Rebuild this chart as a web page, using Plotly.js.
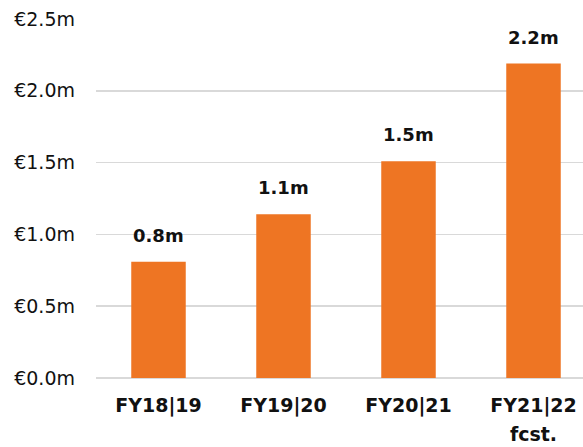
<!DOCTYPE html>
<html>
<head>
<meta charset="utf-8">
<script src="https://cdn.plot.ly/plotly-3.0.1.min.js"></script>
<style>html,body{margin:0;padding:0;background:#fff;}#chart{width:583px;height:447px;}</style>
</head>
<body>
<div id="chart"></div>
<script>
const categories = ["FY18|19", "FY19|20", "FY20|21", "FY21|22<br>fcst."];
const values = [0.81, 1.14, 1.51, 2.19];
const valueLabels = ["0.8m", "1.1m", "1.5m", "2.2m"];
const yTickVals = [0, 0.5, 1.0, 1.5, 2.0, 2.5];
const yTickText = ["€0.0m", "€0.5m", "€1.0m", "€1.5m", "€2.0m", "€2.5m"];

const FONT = "DejaVu Sans, sans-serif";
const trace = {
  type: "bar",
  x: categories.map((c, i) => i),
  y: values,
  marker: { color: "#EE7523" },
  hoverinfo: "none"
};
const annotations = values.map((v, i) => ({
  x: i, y: v, xref: "x", yref: "y",
  text: "<b>" + valueLabels[i] + "</b>",
  showarrow: false, yanchor: "bottom", yshift: 14,
  font: { family: FONT, size: 18, color: "#111" }
}));
const layout = {
  width: 583, height: 447,
  margin: { l: 96, r: 0, t: 19, b: 69 },
  paper_bgcolor: "#fff", plot_bgcolor: "#fff",
  showlegend: false,
  bargap: 0.564,
  xaxis: {
    range: [-0.5, 3.396],
    tickvals: categories.map((c, i) => i),
    ticktext: categories.map(c => '<span style="font-size:19px"><b>' + c.replace("<br>", '</b></span><br><span style="font-size:19px"><b>') + "</b></span>"),
    showgrid: false, zeroline: false, showline: false, ticks: "",
    ticklabelstandoff: 11,
    tickfont: { family: FONT, size: 22, color: "#111" },
    fixedrange: true
  },
  yaxis: {
    range: [0, 2.5],
    tickvals: yTickVals, ticktext: yTickText,
    showgrid: true, gridcolor: "#d9d9d9", gridwidth: 1.5,
    zeroline: true, zerolinecolor: "#d9d9d9", zerolinewidth: 1.5,
    showline: false, ticks: "",
    ticklabelstandoff: 20,
    tickfont: { family: FONT, size: 19, color: "#111" },
    fixedrange: true
  },
  annotations: annotations
};
Plotly.newPlot("chart", [trace], layout, { displayModeBar: false, staticPlot: true });
</script>
</body>
</html>
